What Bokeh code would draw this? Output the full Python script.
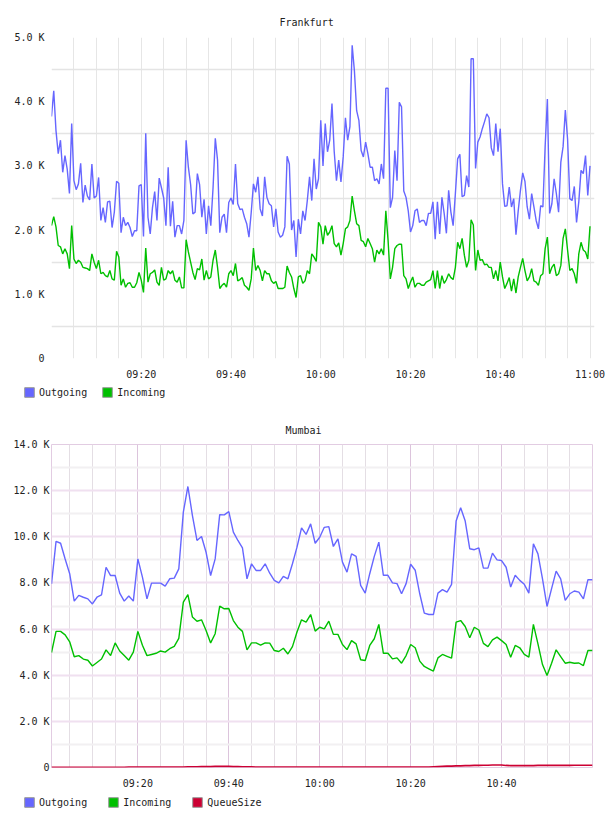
from bokeh.plotting import figure
from bokeh.models import Range1d, FixedTicker, Legend, LegendItem
from bokeh.layouts import column
from bokeh.embed import file_html
from bokeh.resources import INLINE

FONT = "DejaVu Sans Mono"
C_OUT = "#6666ff"
C_IN = "#00c000"
C_Q = "#cc0033"

# ---------------- Frankfurt (30 s samples from 09:00, values in K) ----------------
fra_step_min = 0.5
fra_outgoing = [
    3.77, 4.17, 3.55, 3.19, 3.40, 2.90, 3.16, 2.95, 2.57, 3.66,
    2.77, 2.63, 2.72, 3.04, 2.43, 2.70, 2.53, 2.47, 3.03, 2.50,
    2.53, 2.82, 2.15, 2.35, 2.12, 2.44, 2.45, 2.04, 2.28, 2.76,
    2.73, 1.96, 2.20, 2.07, 2.12, 2.04, 1.90, 1.99, 1.99, 2.69,
    2.71, 1.90, 3.51, 2.20, 1.94, 2.35, 2.60, 2.15, 2.81, 2.66,
    2.50, 2.07, 2.98, 2.06, 2.45, 1.89, 2.07, 2.07, 1.94, 2.15,
    3.40, 2.98, 2.71, 2.25, 2.28, 2.88, 2.71, 2.20, 2.48, 1.94,
    2.38, 2.07, 2.66, 3.43, 3.09, 1.96, 2.20, 2.25, 1.96, 2.43,
    2.50, 2.40, 3.03, 2.41, 2.32, 2.33, 2.20, 2.10, 1.89, 2.27,
    2.72, 2.59, 2.83, 2.33, 2.22, 2.83, 2.51, 2.41, 2.38, 2.05,
    2.33, 1.97, 1.89, 1.92, 2.05, 3.15, 3.03, 2.00, 2.15, 1.58,
    2.17, 1.94, 2.30, 2.15, 2.46, 2.83, 2.46, 3.11, 2.64, 2.80,
    3.71, 3.00, 3.66, 3.22, 3.40, 3.97, 3.22, 2.77, 3.09, 2.75,
    3.14, 3.75, 3.40, 3.61, 4.88, 4.48, 3.86, 3.71, 3.24, 3.14,
    3.37, 3.19, 2.98, 2.98, 2.77, 2.80, 2.72, 3.03, 2.80, 4.21,
    4.21, 2.35, 2.51, 3.24, 2.77, 3.99, 3.92, 2.61, 2.51, 2.30,
    1.97, 2.07, 2.30, 2.33, 2.12, 2.15, 2.15, 2.07, 2.26, 2.26,
    2.44, 1.86, 2.44, 1.94, 2.51, 2.26, 1.95, 2.62, 2.28, 2.07,
    2.57, 3.11, 3.18, 2.52, 2.54, 2.85, 2.67, 4.67, 4.67, 2.96,
    3.37, 3.45, 3.58, 3.69, 3.81, 3.75, 3.28, 3.16, 3.66, 3.22,
    3.58, 2.72, 2.37, 2.38, 2.67, 2.36, 2.49, 1.93, 2.30, 2.62,
    2.89, 2.76, 2.36, 2.17, 2.57, 2.36, 2.15, 2.02, 2.38, 2.36,
    3.30, 4.04, 2.26, 2.41, 2.80, 2.57, 2.28, 3.06, 3.30, 3.87,
    3.42, 2.49, 2.46, 2.68, 2.12, 2.44, 2.93, 2.88, 3.16, 2.54, 3.00,
]
fra_incoming = [
    2.07, 2.21, 2.05, 1.76, 1.74, 1.63, 1.71, 1.63, 1.40, 2.07,
    1.55, 1.48, 1.53, 1.50, 1.42, 1.41, 1.40, 1.37, 1.63, 1.50,
    1.40, 1.53, 1.32, 1.34, 1.29, 1.27, 1.37, 1.24, 1.22, 1.67,
    1.58, 1.14, 1.24, 1.11, 1.17, 1.18, 1.11, 1.11, 1.18, 1.34,
    1.22, 1.03, 1.72, 1.19, 1.32, 1.34, 1.38, 1.19, 1.14, 1.42,
    1.22, 1.24, 1.37, 1.32, 1.37, 1.22, 1.19, 1.27, 1.10, 1.10,
    1.85, 1.66, 1.50, 1.34, 1.23, 1.40, 1.38, 1.55, 1.22, 1.37,
    1.24, 1.27, 1.53, 1.69, 1.42, 1.09, 1.14, 1.17, 1.11, 1.32,
    1.37, 1.29, 1.48, 1.21, 1.23, 1.26, 1.14, 1.11, 1.06, 1.24,
    1.72, 1.37, 1.45, 1.37, 1.21, 1.37, 1.32, 1.32, 1.21, 1.17,
    1.20, 1.09, 1.09, 1.09, 1.11, 1.44, 1.34, 1.27, 1.09, 0.95,
    1.27, 1.29, 1.17, 1.21, 1.37, 1.32, 1.63, 1.58, 1.51, 2.12,
    2.05, 1.78, 2.07, 1.92, 1.97, 2.07, 1.79, 1.74, 1.80, 1.61,
    1.79, 2.02, 2.05, 2.15, 2.53, 2.30, 2.10, 2.07, 1.84, 1.82,
    1.74, 1.87, 1.79, 1.71, 1.50, 1.69, 1.63, 1.71, 1.61, 2.30,
    1.84, 1.24, 1.42, 1.71, 1.76, 1.78, 1.78, 1.29, 1.24, 1.09,
    1.19, 1.27, 1.11, 1.17, 1.17, 1.14, 1.14, 1.19, 1.21, 1.23,
    1.37, 1.09, 1.37, 1.09, 1.29, 1.17, 1.23, 1.32, 1.26, 1.23,
    1.42, 1.81, 1.71, 1.87, 1.61, 1.42, 1.53, 2.16, 2.08, 1.37,
    1.69, 1.53, 1.54, 1.46, 1.47, 1.42, 1.42, 1.24, 1.37, 1.21,
    1.50, 1.27, 1.09, 1.17, 1.26, 1.05, 1.24, 1.02, 1.27, 1.42,
    1.56, 1.37, 1.21, 1.27, 1.40, 1.21, 1.19, 1.14, 1.29, 1.32,
    1.71, 1.89, 1.32, 1.42, 1.47, 1.29, 1.32, 1.45, 1.87, 2.02,
    1.69, 1.37, 1.40, 1.32, 1.17, 1.63, 1.81, 1.69, 1.66, 1.55, 2.06,
]
fra_minutes = [i * fra_step_min for i in range(len(fra_outgoing))]
fra_yticks = [0, 1, 2, 3, 4, 5]
fra_ylabels = ["0", "1.0 K", "2.0 K", "3.0 K", "4.0 K", "5.0 K"]
fra_xticks = [20, 40, 60, 80, 100, 120]
fra_xlabels = ["09:20", "09:40", "10:00", "10:20", "10:40", "11:00"]

# ---------------- Mumbai (1 min samples 09:01 .. 11:00, values in K) ----------------
mum_outgoing = [
    7.96, 9.80, 9.72, 9.04, 8.40, 7.21, 7.46, 7.38, 7.31, 7.09,
    7.38, 7.48, 8.68, 8.32, 8.32, 7.56, 7.21, 7.43, 7.21, 9.04,
    8.25, 7.31, 7.99, 7.99, 7.99, 7.86, 8.18, 8.21, 8.61, 11.07,
    12.18, 10.92, 9.84, 10.01, 9.33, 8.32, 9.04, 10.96, 10.95, 11.09,
    10.20, 9.84, 9.52, 8.18, 8.83, 8.54, 8.54, 8.83, 8.42, 8.11,
    8.00, 8.28, 8.18, 8.83, 9.55, 10.39, 10.10, 10.56, 9.72, 9.98,
    10.41, 10.44, 9.58, 9.91, 8.90, 8.47, 9.26, 9.15, 7.89, 7.56,
    8.40, 9.15, 9.77, 8.33, 8.33, 8.00, 7.97, 7.53, 7.97, 8.81,
    8.55, 7.53, 6.69, 6.63, 6.63, 7.56, 7.71, 7.60, 7.94, 10.68,
    11.26, 10.68, 9.48, 9.44, 9.52, 8.64, 8.64, 9.29, 9.00, 8.97,
    8.68, 7.82, 8.33, 8.11, 7.94, 7.56, 9.70, 9.26, 8.18, 6.98,
    7.75, 8.51, 8.18, 7.24, 7.53, 7.65, 7.60, 7.31, 8.14, 8.14,
]
mum_incoming = [
    4.98, 5.90, 5.90, 5.75, 5.45, 4.80, 4.85, 4.70, 4.65, 4.40,
    4.55, 4.70, 5.10, 4.85, 5.40, 5.05, 4.85, 4.65, 5.00, 5.90,
    5.30, 4.85, 4.90, 4.95, 5.05, 5.00, 5.15, 5.25, 5.60, 7.17,
    7.49, 6.52, 6.34, 6.40, 5.94, 5.40, 5.80, 6.99, 6.88, 6.89,
    6.37, 6.08, 5.90, 5.10, 5.40, 5.40, 5.30, 5.40, 5.39, 5.07,
    5.03, 5.17, 4.92, 5.24, 5.87, 6.40, 6.30, 6.63, 5.91, 6.08,
    6.01, 6.34, 5.77, 5.77, 5.33, 5.11, 5.50, 5.36, 4.67, 4.64,
    5.29, 5.58, 6.20, 4.95, 4.95, 4.71, 4.75, 4.52, 4.85, 5.33,
    5.19, 4.61, 4.38, 4.28, 4.18, 4.75, 4.90, 4.82, 4.74, 6.30,
    6.37, 6.11, 5.62, 6.08, 5.96, 5.38, 5.24, 5.53, 5.65, 5.50,
    5.33, 4.78, 5.29, 5.19, 4.90, 4.78, 6.20, 5.36, 4.46, 3.99,
    4.52, 5.10, 4.81, 4.52, 4.56, 4.52, 4.53, 4.42, 5.07, 5.07,
]
mum_queue = [
    0.01, 0.01, 0.01, 0.01, 0.01, 0.01, 0.01, 0.01, 0.01, 0.01,
    0.01, 0.01, 0.01, 0.01, 0.01, 0.01, 0.01, 0.02, 0.02, 0.02,
    0.02, 0.02, 0.02, 0.02, 0.02, 0.02, 0.02, 0.02, 0.02, 0.02,
    0.03, 0.03, 0.03, 0.04, 0.04, 0.04, 0.05, 0.05, 0.05, 0.05,
    0.04, 0.04, 0.03, 0.03, 0.03, 0.02, 0.02, 0.02, 0.02, 0.02,
    0.02, 0.02, 0.02, 0.02, 0.02, 0.02, 0.02, 0.02, 0.02, 0.02,
    0.02, 0.02, 0.02, 0.02, 0.02, 0.02, 0.02, 0.02, 0.02, 0.02,
    0.02, 0.02, 0.02, 0.02, 0.02, 0.02, 0.02, 0.02, 0.02, 0.02,
    0.02, 0.02, 0.02, 0.02, 0.03, 0.04, 0.05, 0.06, 0.06, 0.07,
    0.07, 0.08, 0.08, 0.09, 0.09, 0.10, 0.10, 0.11, 0.11, 0.11,
    0.09, 0.08, 0.08, 0.08, 0.08, 0.08, 0.08, 0.09, 0.09, 0.09,
    0.09, 0.09, 0.09, 0.09, 0.09, 0.10, 0.10, 0.10, 0.10, 0.10,
]
mum_first_minute = 1
mum_minutes = [mum_first_minute + i for i in range(len(mum_outgoing))]
mum_yticks = [0, 2, 4, 6, 8, 10, 12, 14]
mum_ylabels = ["0", "2.0 K", "4.0 K", "6.0 K", "8.0 K", "10.0 K", "12.0 K", "14.0 K"]
mum_xticks = [20, 40, 60, 80, 100]
mum_xlabels = ["09:20", "09:40", "10:00", "10:20", "10:40"]

minor_5min = [5, 10, 15, 25, 30, 35, 45, 50, 55, 65, 70, 75, 85, 90, 95, 105, 110, 115]


def style_common(p, title, title_offset, title_standoff):
    p.title.text = title
    p.title.align = "left"
    p.title.text_font = FONT
    p.title.text_font_size = "10px"
    p.title.text_font_style = "normal"
    p.title.text_color = "#222222"
    p.title.offset = title_offset
    p.title.standoff = title_standoff
    for ax in (p.xaxis[0], p.yaxis[0]):
        ax.axis_line_color = None
        ax.major_tick_line_color = None
        ax.minor_tick_line_color = None
        ax.major_tick_out = 0
        ax.major_tick_in = 0
        ax.minor_tick_out = 0
        ax.major_label_text_font = FONT
        ax.major_label_text_font_size = "10px"
        ax.major_label_text_color = "#222222"
    p.background_fill_color = "white"
    p.border_fill_color = "white"


def legend_strip(entries, height, y_off, spacing):
    lp = figure(width=608, height=height, output_backend="svg", toolbar_location=None,
                x_axis_location=None, y_axis_location=None,
                x_range=Range1d(0, 1), y_range=Range1d(0, 1),
                min_border_left=0, min_border_right=0, min_border_top=0,
                min_border_bottom=0, frame_align=False)
    lp.outline_line_color = None
    lp.xgrid.visible = False
    lp.ygrid.visible = False
    items = []
    for label, color in entries:
        # swatch glyph kept outside the visible range; only its legend entry shows
        r = lp.quad(left=[2], right=[3], top=[3], bottom=[2], fill_color=color,
                    line_color="#999999", line_width=1)
        items.append(LegendItem(label=label, renderers=[r]))
    lg = Legend(items=items, orientation="horizontal", location=(23, y_off))
    lg.glyph_width = 12
    lg.glyph_height = 12
    lg.label_height = 12
    lg.label_width = 10
    lg.label_standoff = 4
    lg.spacing = spacing
    lg.padding = 0
    lg.margin = 0
    lg.border_line_color = None
    lg.background_fill_alpha = 0
    lg.label_text_font = FONT
    lg.label_text_font_size = "10px"
    lg.label_text_color = "#222222"
    lp.add_layout(lg, "center")
    return lp


# ---------------- Frankfurt figure ----------------
p1 = figure(width=608, height=382, output_backend="svg", toolbar_location=None,
            x_range=Range1d(0, 121), y_range=Range1d(0, 5),
            min_border_left=51, min_border_right=14, min_border_top=37,
            min_border_bottom=24, frame_align=False)
style_common(p1, "Frankfurt", 228, 19)
p1.outline_line_color = None
p1.xaxis[0].ticker = FixedTicker(ticks=fra_xticks)
p1.xaxis[0].major_label_overrides = dict(zip(fra_xticks, fra_xlabels))
p1.xaxis[0].major_label_standoff = 10
p1.yaxis[0].ticker = FixedTicker(ticks=fra_yticks)
p1.yaxis[0].major_label_overrides = dict(zip(fra_yticks, fra_ylabels))
p1.yaxis[0].major_label_standoff = 7
p1.xgrid[0].ticker = FixedTicker(ticks=fra_xticks + minor_5min)
p1.xgrid[0].grid_line_color = "#e6e6e6"
p1.xgrid[0].grid_line_width = 1
p1.ygrid[0].ticker = FixedTicker(ticks=fra_yticks, minor_ticks=[0.5, 1.5, 2.5, 3.5, 4.5])
p1.ygrid[0].grid_line_color = None
p1.ygrid[0].minor_grid_line_color = "#e4e4e4"
p1.ygrid[0].minor_grid_line_width = 1.5

p1.line(fra_minutes, fra_outgoing, line_color=C_OUT, line_width=1.4)
p1.line(fra_minutes, fra_incoming, line_color=C_IN, line_width=1.4)
leg1 = legend_strip([("Outgoing", C_OUT), ("Incoming", C_IN)], 23, 7, 14)

# ---------------- Mumbai figure ----------------
p2 = figure(width=608, height=388, output_backend="svg", toolbar_location=None,
            x_range=Range1d(mum_minutes[0], mum_minutes[-1]), y_range=Range1d(0, 14),
            min_border_left=51, min_border_right=16, min_border_top=39,
            min_border_bottom=26, frame_align=False)
style_common(p2, "Mumbai", 234, 17)
p2.outline_line_color = "#e2cce2"
p2.outline_line_width = 1
p2.xaxis[0].ticker = FixedTicker(ticks=mum_xticks)
p2.xaxis[0].major_label_overrides = dict(zip(mum_xticks, mum_xlabels))
p2.xaxis[0].major_label_standoff = 10
p2.yaxis[0].ticker = FixedTicker(ticks=mum_yticks)
p2.yaxis[0].major_label_overrides = dict(zip(mum_yticks, mum_ylabels))
p2.yaxis[0].major_label_standoff = 2
p2.xgrid[0].ticker = FixedTicker(ticks=mum_xticks, minor_ticks=minor_5min)
p2.xgrid[0].grid_line_color = "#dcc4dc"
p2.xgrid[0].grid_line_width = 1
p2.xgrid[0].minor_grid_line_color = "#e4dee4"
p2.xgrid[0].minor_grid_line_width = 1
p2.ygrid[0].ticker = FixedTicker(ticks=mum_yticks, minor_ticks=[1, 3, 5, 7, 9, 11, 13])
p2.ygrid[0].grid_line_color = "#f0e0f0"
p2.ygrid[0].grid_line_width = 2
p2.ygrid[0].minor_grid_line_color = "#f2f0f2"
p2.ygrid[0].minor_grid_line_width = 2

p2.line(mum_minutes, mum_outgoing, line_color=C_OUT, line_width=1.4)
p2.line(mum_minutes, mum_incoming, line_color=C_IN, line_width=1.4)
p2.line(mum_minutes, mum_queue, line_color=C_Q, line_width=1.6)
leg2 = legend_strip([("Outgoing", C_OUT), ("Incoming", C_IN), ("QueueSize", C_Q)], 23, 8, 20)

layout = column(p1, leg1, p2, leg2, spacing=0)
open("out.html", "w").write(file_html(layout, INLINE))
